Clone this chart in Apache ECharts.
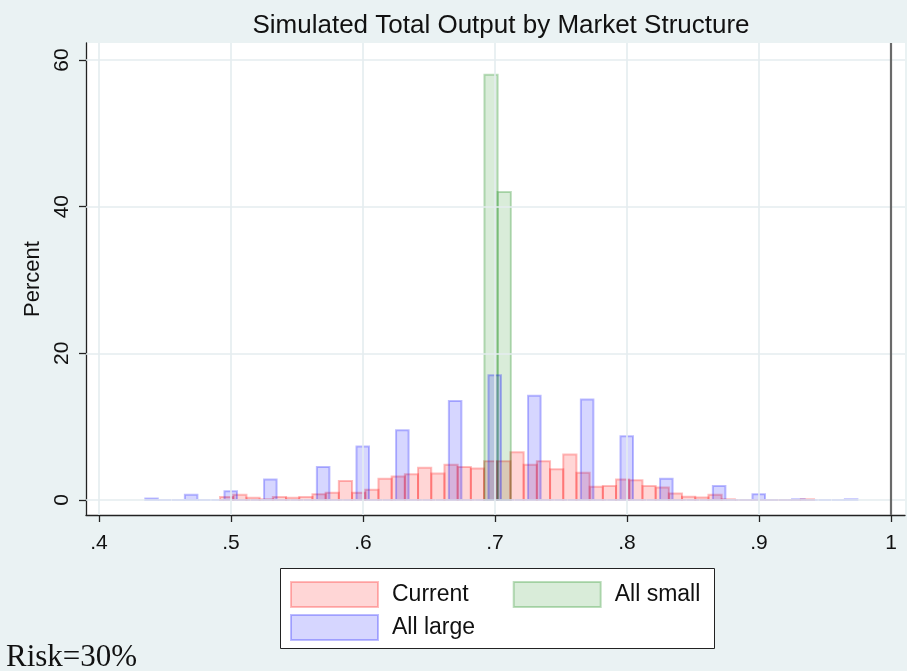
<!DOCTYPE html>
<html>
<head>
<meta charset="utf-8">
<script src="https://cdn.jsdelivr.net/npm/echarts@6/dist/echarts.min.js"></script>
<style>
  html, body { margin: 0; padding: 0; background: #eaf2f3; }
  #chart { width: 907px; height: 671px; }
</style>
</head>
<body>
<div id="chart"></div>
<script>
// Axis ticks and labels
const xTickValues = [0.4, 0.5, 0.6, 0.7, 0.8, 0.9, 1.0];
const xTickLabels = ['.4', '.5', '.6', '.7', '.8', '.9', '1'];
const yTickValues = [0, 20, 40, 60];
const yTickLabels = ['0', '20', '40', '60'];

// Histogram definitions: first bin start, bin width, percent per bin
const currentStart = 0.4917;
const currentWidth = 0.01;
const currentPct = [0.4, 0.7, 0.3, 0.1, 0.4, 0.3, 0.4, 0.8, 1.0, 2.6,
                    1.0, 1.4, 2.9, 3.2, 3.5, 4.4, 3.6, 4.8, 4.5, 4.3,
                    5.3, 5.3, 6.5, 4.8, 5.3, 4.2, 6.2, 3.7, 1.8, 1.9,
                    2.8, 2.7, 1.9, 1.7, 0.9, 0.45, 0.35, 0.7, 0.1, 0,
                    0, 0, 0, 0, 0.1];

const smallStart = 0.692;
const smallWidth = 0.01;
const smallPct = [58, 42];

const largeStart = 0.4348;
const largeWidth = 0.01;
const largePct = [0.2, 0, 0, 0.7, 0, 0, 1.2, 0, 0, 2.8,
                  0, 0, 0, 4.5, 0, 0, 7.3, 0, 0, 9.5,
                  0, 0, 0, 13.5, 0, 0, 17, 0, 0, 14.2,
                  0, 0, 0, 13.7, 0, 0, 8.7, 0, 0, 2.9,
                  0, 0, 0, 1.9, 0, 0, 0.8, 0, 0, 0.1,
                  0, 0, 0, 0.1];

const referenceLineX = 1;

const FONT = '"Liberation Sans", Arial, Helvetica, sans-serif';

const styles = {
  'Current':   { fill: 'rgba(255,0,0,0.16)', stroke: 'rgba(255,0,0,0.26)' },
  'All small': { fill: 'rgba(0,128,0,0.15)', stroke: 'rgba(0,128,0,0.26)' },
  'All large': { fill: 'rgba(0,0,255,0.16)', stroke: 'rgba(0,0,255,0.26)' }
};

function bins(start, width, pct) {
  return pct.map((p, i) => [start + i * width, start + (i + 1) * width, p]);
}

function histSeries(name, data, shrink) {
  const st = styles[name];
  return {
    name: name,
    type: 'custom',
    clip: true,
    z: 3,
    encode: { x: [0, 1], y: 2 },
    data: data,
    itemStyle: { color: st.fill, borderColor: st.stroke },
    renderItem: function (params, api) {
      const left = api.value(0), right = api.value(1);
      const inset = (right - left) * shrink / 2;
      const p0 = api.coord([left + inset, api.value(2)]);
      const p1 = api.coord([right - inset, 0]);
      return {
        type: 'rect',
        shape: { x: p0[0], y: p0[1], width: p1[0] - p0[0], height: p1[1] - p0[1] },
        style: { fill: st.fill, stroke: st.stroke, lineWidth: 2 }
      };
    }
  };
}

// Plot region geometry: .4 sits 13px right of the y axis, 0 sits 15px above the x axis
const gridLeft = 86, gridRight = 2, gridTop = 43, gridBottom = 156;
const xPerUnit = 1320;   // px per 1.0 on x
const yPerUnit = 440 / 60;
const xMin = 0.4 - 13 / xPerUnit;
const xMax = xMin + (907 - gridLeft - gridRight) / xPerUnit;
const yMin = -15 / yPerUnit;
const yMax = yMin + (671 - gridTop - gridBottom) / yPerUnit;

const gridLineStyle = { color: '#e4edef', width: 1.6, type: 'solid' };

function legendItem(name) {
  return { name: name, itemStyle: { color: styles[name].fill, borderColor: styles[name].stroke, borderWidth: 2 } };
}

const legendText = { fontFamily: FONT, fontSize: 23, color: '#111', padding: [0, 0, 0, 9] };

const chart = echarts.init(document.getElementById('chart'), null, { renderer: 'canvas' });

chart.setOption({
  backgroundColor: '#eaf2f3',
  animation: false,
  title: [
    {
      text: 'Simulated Total Output by Market Structure',
      left: 496, top: 8, textAlign: 'center',
      textStyle: { fontFamily: FONT, fontSize: 26, fontWeight: 'normal', color: '#111' }
    },
    {
      text: 'Risk=30%',
      left: 1, top: 637,
      textStyle: { fontFamily: '"Liberation Serif", "Times New Roman", serif', fontSize: 31, fontWeight: 'normal', color: '#111' }
    }
  ],
  grid: {
    left: gridLeft, right: gridRight, top: gridTop, bottom: gridBottom,
    show: true, backgroundColor: '#ffffff', borderWidth: 0
  },
  xAxis: {
    type: 'value', min: xMin, max: xMax,
    axisLine: { show: true, onZero: false, lineStyle: { color: '#222', width: 1.3 } },
    axisTick: { show: true, length: 7, customValues: xTickValues, lineStyle: { color: '#222', width: 1.3 } },
    axisLabel: {
      customValues: xTickValues, margin: 18,
      formatter: v => xTickLabels[xTickValues.findIndex(t => Math.abs(t - v) < 1e-9)],
      fontFamily: FONT, fontSize: 21, color: '#111'
    },
    splitLine: { show: false }
  },
  yAxis: {
    type: 'value', min: yMin, max: yMax,
    name: 'Percent', nameLocation: 'middle', nameRotate: 90, nameGap: 42,
    nameTextStyle: { fontFamily: FONT, fontSize: 22, color: '#111' },
    axisLine: { show: true, onZero: false, lineStyle: { color: '#222', width: 1.3 } },
    axisTick: { show: true, length: 7, customValues: yTickValues, lineStyle: { color: '#222', width: 1.3 } },
    axisLabel: {
      customValues: yTickValues, margin: 13, rotate: 90,
      formatter: v => yTickLabels[yTickValues.findIndex(t => Math.abs(t - v) < 1e-9)],
      fontFamily: FONT, fontSize: 21, color: '#111'
    },
    splitLine: { show: false }
  },
  legend: [
    {
      data: [legendItem('Current'), legendItem('All small')],
      left: 290, top: 581, padding: 0, orient: 'horizontal',
      icon: 'rect', itemWidth: 87, itemHeight: 25, itemGap: 44, itemTextGap: 5,
      selectedMode: false,
      textStyle: legendText
    },
    {
      data: [legendItem('All large')],
      left: 290, top: 614, padding: 0, orient: 'horizontal',
      icon: 'rect', itemWidth: 87, itemHeight: 25, itemTextGap: 5,
      selectedMode: false,
      textStyle: legendText
    }
  ],
  graphic: [
    {
      type: 'rect', z: -1, silent: true,
      shape: { x: 280.5, y: 568.5, width: 434, height: 80 },
      style: { fill: '#ffffff', stroke: '#222', lineWidth: 1 }
    }
  ],
  series: [
    {
      // light grid lines at the labelled ticks, plus the reference line at x = 1
      type: 'line', data: [], z: 1, silent: true,
      markLine: {
        silent: true, symbol: 'none', animation: false,
        label: { show: false },
        data: xTickValues.filter(v => v !== referenceLineX).map(v => ({ xAxis: v, lineStyle: gridLineStyle }))
          .concat(yTickValues.map(v => ({ yAxis: v, lineStyle: gridLineStyle })))
          .concat([{ xAxis: referenceLineX, lineStyle: { color: '#6a6a6a', width: 2.2, type: 'solid' } }])
      }
    },
    histSeries('Current', bins(currentStart, currentWidth, currentPct), 0),
    histSeries('All small', bins(smallStart, smallWidth, smallPct), 0),
    histSeries('All large', bins(largeStart, largeWidth, largePct), 0.05)
  ]
});
</script>
</body>
</html>
